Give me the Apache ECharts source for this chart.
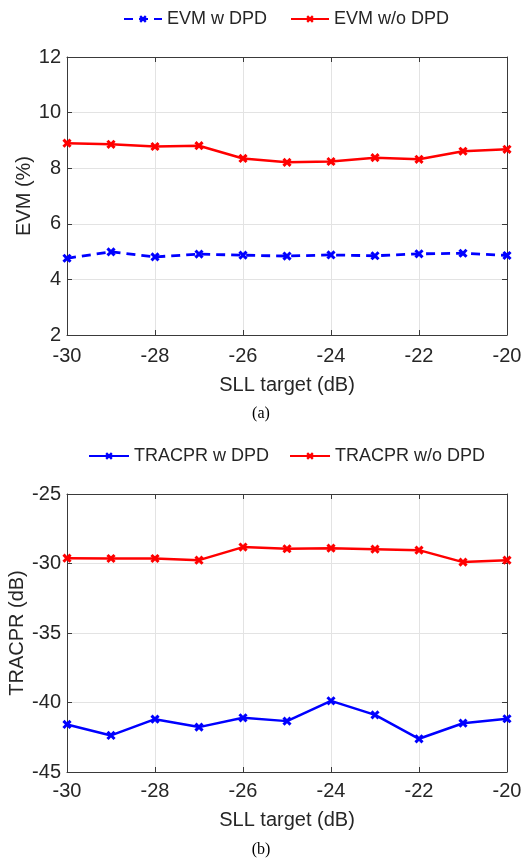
<!DOCTYPE html>
<html><head><meta charset="utf-8">
<script src="https://cdn.jsdelivr.net/npm/echarts@6/dist/echarts.min.js"></script>
<style>html,body{margin:0;padding:0;background:#fff}#c{width:522px;height:862px}</style>
</head><body><div id="c"></div>
<script>
const sll = [-30,-29,-28,-27,-26,-25,-24,-23,-22,-21,-20];
const evmW = [4.76,4.99,4.81,4.91,4.87,4.84,4.88,4.85,4.92,4.94,4.86];
const evmWo = [8.90,8.86,8.78,8.81,8.35,8.21,8.24,8.38,8.32,8.61,8.68];
const acprW = [-41.58,-42.37,-41.20,-41.77,-41.10,-41.34,-39.88,-40.89,-42.61,-41.49,-41.17];
const acprWo = [-29.62,-29.64,-29.64,-29.76,-28.82,-28.94,-28.90,-28.97,-29.04,-29.90,-29.76];
const names = ['EVM w DPD','EVM w/o DPD','TRACPR w DPD','TRACPR w/o DPD'];

const F = 'Liberation Sans, Arial, Helvetica, sans-serif';
const TXT = '#262626';
const AX = '#3a3a3a';
const xMark = 'path://M-1.2,-4L1.2,-4L1.2,-1.2L4,-1.2L4,1.2L1.2,1.2L1.2,4L-1.2,4L-1.2,1.2L-4,1.2L-4,-1.2L-1.2,-1.2Z';
const pair = a => a.map((v,i)=>[sll[i],v]);

function xAx(gi, show, gap) {
  return {type:'value', gridIndex:gi, min:-30, max:-20, interval:2,
    position: show ? 'bottom' : 'top',
    name: show ? 'SLL target (dB)' : '', nameLocation:'middle', nameGap:gap,
    nameTextStyle:{fontFamily:F,fontSize:20,color:TXT},
    axisLine:{show:true,onZero:false,lineStyle:{color:AX,width:1}},
    axisTick:{show:true,inside:true,length:5,lineStyle:{color:AX}},
    axisLabel:{show:show,fontFamily:F,fontSize:20,color:TXT,margin:gap-29},
    splitLine:{show:show,lineStyle:{color:'#e3e3e3',width:1}}};
}
function yAx(gi, show, min, max, itv, nm, gap) {
  return {type:'value', gridIndex:gi, min:min, max:max, interval:itv,
    position: show ? 'left' : 'right',
    name: show ? nm : '', nameLocation:'middle', nameGap:gap, nameMoveOverlap:false,
    nameTextStyle:{fontFamily:F,fontSize:20,color:TXT},
    axisLine:{show:true,onZero:false,lineStyle:{color:AX,width:1}},
    axisTick:{show:true,inside:true,length:5,lineStyle:{color:AX}},
    axisLabel:{show:show,fontFamily:F,fontSize:20,color:TXT,margin:6},
    splitLine:{show:show,lineStyle:{color:'#e3e3e3',width:1}}};
}
function ser(name, data, xi, yi, color, dashed) {
  return {name:name, type:'line', xAxisIndex:xi, yAxisIndex:yi, data:pair(data),
    symbol:xMark, symbolSize:10, symbolRotate:45, showSymbol:true,
    lineStyle:{color:color,width:dashed?2.8:2.5,type:dashed?[9,6]:'solid'},
    itemStyle:{color:color}, animation:false, z:5};
}

const chart = echarts.init(document.getElementById('c'), null, {renderer:'canvas'});
chart.setOption({
  animation:false,
  backgroundColor:'#fff',
  grid:[{left:67,right:15,top:57,height:278,outerBoundsMode:'none',containLabel:false},
        {left:67,right:15,top:494,height:278,outerBoundsMode:'none',containLabel:false}],
  xAxis:[xAx(0,true,40), xAx(0,false,40), xAx(1,true,38), xAx(1,false,38)],
  yAxis:[yAx(0,true,2,12,2,'EVM (%)',33), yAx(0,false,2,12,2,'',0),
         yAx(1,true,-45,-25,5,'TRACPR (dB)',40), yAx(1,false,-45,-25,5,'',0)],
  legend:[
    {data:[names[0],names[1]], left:118, top:5, itemWidth:38, itemHeight:10, itemGap:23,
     textStyle:{fontFamily:F,fontSize:18,color:TXT}},
    {data:[names[2],names[3]], left:83, top:442, itemWidth:40, itemHeight:10, itemGap:20,
     textStyle:{fontFamily:F,fontSize:18,color:TXT}}
  ],
  title:[
    {text:'(a)', left:'center', top:401, textStyle:{fontFamily:'Liberation Serif, Times New Roman, serif',fontSize:16,fontWeight:'normal',color:'#000'}},
    {text:'(b)', left:'center', top:837, textStyle:{fontFamily:'Liberation Serif, Times New Roman, serif',fontSize:16,fontWeight:'normal',color:'#000'}}
  ],
  series:[
    ser(names[0], evmW, 0, 0, '#0000ff', true),
    ser(names[1], evmWo, 0, 0, '#ff0000', false),
    ser(names[2], acprW, 2, 2, '#0000ff', false),
    ser(names[3], acprWo, 2, 2, '#ff0000', false)
  ]
});
</script></body></html>
